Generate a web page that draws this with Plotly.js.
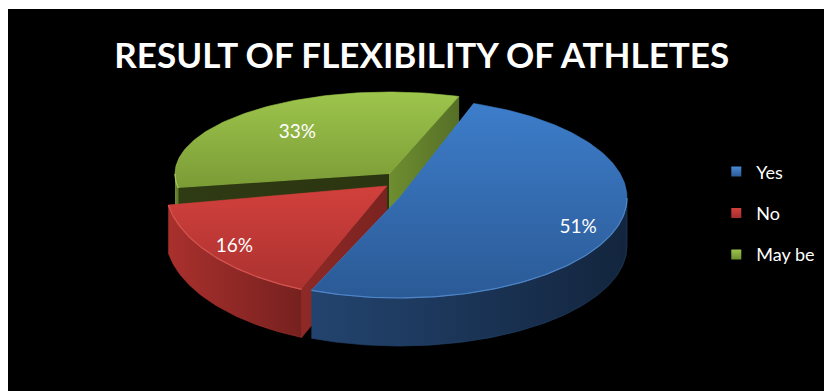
<!DOCTYPE html>
<html>
<head>
<meta charset="utf-8">
<script src="https://cdn.plot.ly/plotly-3.0.1.min.js"></script>
<style>
  html, body { margin:0; padding:0; background:#ffffff; width:824px; height:391px; overflow:hidden; }
  #chart { position:absolute; left:8px; top:9px; width:816px; height:382px; }
</style>
</head>
<body>
<div id="chart"></div>
<script>
// ---- data ----
const categories = ['Yes', 'No', 'May be'];
const values = [51, 16, 33];
const chartTitle = 'RESULT OF FLEXIBILITY OF ATHLETES';

// ---- styles (per category, same order) ----
const topColors  = [['#2b5a96', '#3d7dca'], ['#ab3230', '#d2403c'], ['#7b9b36', '#9dc54c']];
const wallColors = [['#23446f', '#13253e'], ['#a9302d', '#76211f'], ['#6f902f', '#55702a']];
const faceStartColors = [['#1e3a60', '#1e3a60'], ['#8e2926', '#7a2320'], ['#2f3b13', '#2b3511']];
const faceEndColors   = [['#1e3a60', '#1e3a60'], ['#8e2926', '#7a2320'], ['#6e8e30', '#566f27']];
const rimColors = ['#5b93d6', '#e0625e', '#b5d46e'];
const legendColors = [['#4a88d4', '#2b5a96'], ['#d2403c', '#a32e2c'], ['#9dc54c', '#6f8f30']];

// ---- 3D pie geometry (pixel space of the picture) ----
const geom = [
  {ax: 399, ay: 198, rx: 228, ry: 100, lf: 0.84},
  {ax: 387, ay: 186, rx: 222, ry: 112, lf: 0.88},
  {ax: 389, ay: 174, rx: 214, ry: 82,  lf: 0.66}
];
const depth = 48;
const startAngle = 71; // degrees, slices go clockwise

const total = values.reduce((a, b) => a + b, 0);
function P(g, deg, dz) {
  const t = deg * Math.PI / 180;
  return [g.ax + g.rx * Math.cos(t), g.ay - g.ry * Math.sin(t) + dz];
}
function arcPts(g, a, b, dz) {
  const n = Math.max(2, Math.ceil(Math.abs(b - a)));
  const out = [];
  for (let i = 0; i <= n; i++) out.push(P(g, a + (b - a) * i / n, dz));
  return out;
}
function poly(pts, fill, grad, gtype) {
  return {
    type: 'scatter', mode: 'lines', fill: 'toself',
    x: pts.map(p => p[0]), y: pts.map(p => p[1]),
    line: {width: 0.6, color: fill},
    fillcolor: fill,
    fillgradient: {type: gtype, colorscale: [[0, grad[0]], [1, grad[1]]]},
    hoverinfo: 'skip', showlegend: false
  };
}

// slice angle ranges [a (end, clockwise), b (start)]
const ranges = [];
let cum = 0;
values.forEach(v => {
  const span = v / total * 360;
  ranges.push([startAngle - cum - span, startAngle - cum]);
  cum += span;
});

const traces = [];
const drawOrder = [2, 1, 0];
drawOrder.forEach(i => {
  const g = geom[i];
  const [a, b] = ranges[i];
  const apexTop = [g.ax, g.ay], apexBot = [g.ax, g.ay + depth];
  // cut faces
  if (Math.cos(b * Math.PI / 180) < 0) {
    traces.push(poly([apexTop, P(g, b, 0), P(g, b, depth), apexBot], faceStartColors[i][0], faceStartColors[i], 'horizontal'));
  }
  if (Math.cos(a * Math.PI / 180) > 0) {
    traces.push(poly([apexTop, P(g, a, 0), P(g, a, depth), apexBot], faceEndColors[i][0], faceEndColors[i], 'horizontal'));
  }
  // outer walls (near half)
  for (let k = -2; k <= 1; k++) {
    const lo = Math.max(a, 180 + 360 * k), hi = Math.min(b, 360 + 360 * k);
    if (lo < hi) {
      const pts = arcPts(g, lo, hi, 0).concat(arcPts(g, hi, lo, depth));
      traces.push(poly(pts, wallColors[i][0], wallColors[i], 'horizontal'));
    }
  }
  // top face
  const topPts = [apexTop].concat(arcPts(g, a, b, 0));
  traces.push(poly(topPts, topColors[i][1], topColors[i], 'vertical'));
  // rim highlight on near edge
  for (let k = -2; k <= 1; k++) {
    const lo = Math.max(a, 180 + 360 * k), hi = Math.min(b, 360 + 360 * k);
    if (lo < hi) {
      const pts = arcPts(g, lo, hi, 0);
      traces.push({type: 'scatter', mode: 'lines', x: pts.map(p => p[0]), y: pts.map(p => p[1]),
        line: {width: 1.2, color: rimColors[i]}, opacity: 0.7, hoverinfo: 'skip', showlegend: false});
    }
  }
});

// percentage labels
const lx = [], ly = [], lt = [];
values.forEach((v, i) => {
  const g = geom[i];
  const mid = (ranges[i][0] + ranges[i][1]) / 2;
  const t = mid * Math.PI / 180;
  lx.push(g.ax + g.rx * g.lf * Math.cos(t));
  ly.push(g.ay - g.ry * g.lf * Math.sin(t));
  lt.push(Math.round(v / total * 100) + '%');
});
traces.push({type: 'scatter', mode: 'text', x: lx, y: ly, text: lt,
  textfont: {family: 'Lato, sans-serif', size: 19, color: '#ffffff'},
  hoverinfo: 'skip', showlegend: false});

// legend entries
categories.forEach((c, i) => {
  traces.push({type: 'scatter', mode: 'markers', x: [null], y: [null], name: c,
    legendgroup: 'g' + i,
    marker: {symbol: 'square', size: 10, color: legendColors[i][0],
      gradient: {type: 'vertical', color: legendColors[i][1]}}});
});

const layout = {
  width: 816, height: 382,
  margin: {l: 0, r: 0, t: 0, b: 0},
  paper_bgcolor: '#000000', plot_bgcolor: '#000000',
  title: {text: '<b>' + chartTitle + '</b>', font: {family: 'Lato, sans-serif', size: 35, color: '#ffffff'},
    x: 0.507, xanchor: 'center', y: 0.877, yanchor: 'middle'},
  xaxis: {range: [8, 824], visible: false, fixedrange: true},
  yaxis: {range: [391, 9], visible: false, fixedrange: true},
  showlegend: true,
  legend: {x: 0.868, xanchor: 'left', y: 0.622, yanchor: 'top', bgcolor: 'rgba(0,0,0,0)',
    font: {family: 'Lato, sans-serif', size: 18, color: '#ffffff'}, tracegroupgap: 15, itemclick: false},
  hovermode: false
};
Plotly.newPlot('chart', traces, layout, {staticPlot: true, displayModeBar: false});
</script>
</body>
</html>
